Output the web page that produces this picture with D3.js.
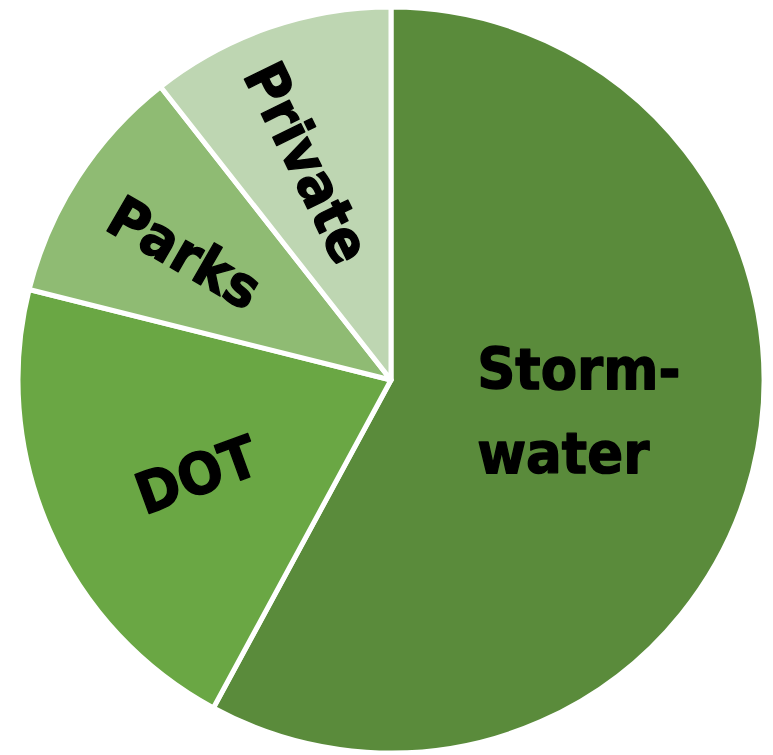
<!DOCTYPE html>
<html>
<head>
<meta charset="utf-8">
<script src="https://cdn.jsdelivr.net/npm/d3@7"></script>
<style>
html,body{margin:0;padding:0;background:#fff;}
svg{display:block;}
</style>
</head>
<body>
<svg id="chart" width="773" height="755"></svg>
<script>
const categories = ["Stormwater", "DOT", "Parks", "Private"];
const values = [57.9, 21.0, 10.5, 10.6];
const colors = ["#5a8b3b", "#6aa744", "#8fbb73", "#bed6b2"];
const labelLines = [["Storm-", "water"], ["DOT"], ["Parks"], ["Private"]];

const W = 773, H = 755;
const cx = 391, cy = 380, R = 373;

const svg = d3.select("#chart");
const g = svg.append("g").attr("transform", `translate(${cx},${cy})`);

const data = categories.map((c, i) => ({ name: c, value: values[i], color: colors[i], lines: labelLines[i] }));
const pie = d3.pie().sort(null).value(d => d.value).startAngle(0).endAngle(2 * Math.PI);
const arcs = pie(data);
const arc = d3.arc().innerRadius(0).outerRadius(R);

g.selectAll("path.slice")
  .data(arcs)
  .join("path")
  .attr("class", "slice")
  .attr("d", arc)
  .attr("fill", d => d.data.color)
  .attr("stroke", "#ffffff")
  .attr("stroke-width", 5)
  .attr("stroke-linejoin", "round");

// label placement: radial fraction, angular shift (deg), rotation (deg)
const labelPos = [
  { r: 0.51, shift: -5, rot: 0 },
  { r: 0.58, shift: -2, rot: -20 },
  { r: 0.65, shift: -1, rot: 30 },
  { r: 0.625, shift: -1.7, rot: 64 }
];

arcs.forEach((a, i) => {
  const p = labelPos[i];
  const ang = (a.startAngle + a.endAngle) / 2 + p.shift * Math.PI / 180;
  const x = Math.sin(ang) * R * p.r;
  const y = -Math.cos(ang) * R * p.r;
  const t = g.append("text")
    .attr("transform", `translate(${x},${y}) rotate(${p.rot}) scale(0.93,1)`)
    .attr("text-anchor", "start")
    .attr("font-family", "'DejaVu Sans', Verdana, sans-serif")
    .attr("font-weight", "bold")
    .attr("font-size", 57)
    .attr("fill", "#000")
    .attr("stroke", "#000")
    .attr("stroke-width", 1.4)
    .attr("stroke-linejoin", "round");
  const n = a.data.lines.length;
  const lh = 84;
  const spans = a.data.lines.map((ln, j) =>
    t.append("tspan")
      .attr("y", (j - (n - 1) / 2) * lh + 21)
      .text(ln));
  const maxW = d3.max(spans, s => s.node().getComputedTextLength());
  spans.forEach(s => s.attr("x", -maxW / 2));
});
</script>
</body>
</html>
